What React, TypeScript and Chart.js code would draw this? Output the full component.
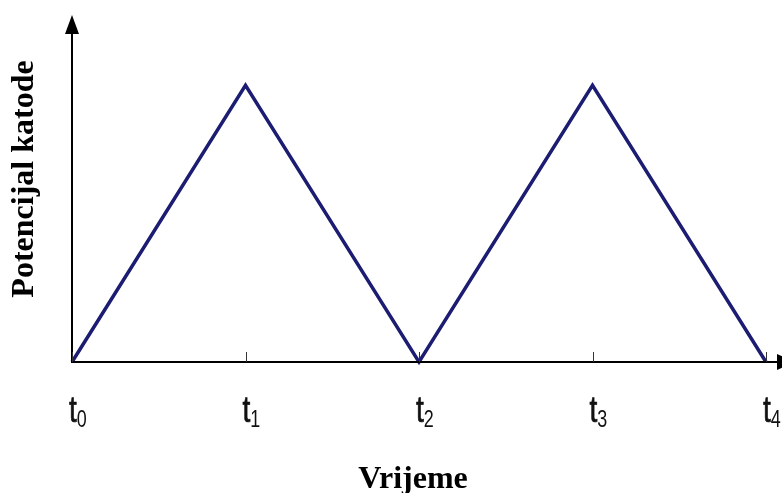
import React, { useEffect, useRef } from "react";
import { Chart, registerables } from "chart.js";

Chart.register(...registerables);

const xValues = [0, 1, 2, 3, 4];
const yValues = [0, 1, 0, 1, 0];
const tickMain = ["t", "t", "t", "t", "t"];
const tickSub = ["0", "1", "2", "3", "4"];
const xTitle = "Vrijeme";
const yTitle = "Potencijal katode";

const overlay = {
  id: "overlay",
  afterDraw(chart: any) {
    const ctx = chart.ctx as CanvasRenderingContext2D;
    const xs = chart.scales.x;
    const ys = chart.scales.y;
    const x0 = xs.getPixelForValue(0);
    const y0 = ys.getPixelForValue(0);
    const top = chart.chartArea.top;
    ctx.save();
    ctx.strokeStyle = "#000";
    ctx.fillStyle = "#000";
    ctx.lineWidth = 2;
    // axes
    ctx.beginPath();
    ctx.moveTo(x0, y0 + 1);
    ctx.lineTo(x0, top + 14);
    ctx.moveTo(x0, y0);
    ctx.lineTo(chart.width, y0);
    ctx.stroke();
    // y arrow
    ctx.beginPath();
    ctx.moveTo(x0, top - 1);
    ctx.lineTo(x0 - 7, top + 18);
    ctx.lineTo(x0 + 7, top + 18);
    ctx.closePath();
    ctx.fill();
    // x arrow
    const ax = xs.getPixelForValue(4) + 11;
    ctx.beginPath();
    ctx.moveTo(ax + 18, y0);
    ctx.lineTo(ax, y0 - 8);
    ctx.lineTo(ax, y0 + 8);
    ctx.closePath();
    ctx.fill();
    // ticks
    ctx.lineWidth = 1;
    ctx.strokeStyle = "#333";
    xValues.forEach((v) => {
      const px = Math.round(xs.getPixelForValue(v)) + 0.5;
      ctx.beginPath();
      ctx.moveTo(px, y0);
      ctx.lineTo(px, y0 - 10);
      ctx.stroke();
    });
    // tick labels (condensed)
    ctx.fillStyle = "#111";
    ctx.strokeStyle = "#111";
    ctx.textBaseline = "alphabetic";
    ctx.textAlign = "left";
    xValues.forEach((v, i) => {
      const px = xs.getPixelForValue(v) - 3;
      ctx.save();
      ctx.translate(px, 0);
      ctx.scale(0.78, 1);
      ctx.font = '36px "Liberation Sans", Arial, sans-serif';
      ctx.fillText(tickMain[i], 0, 422);
      ctx.lineWidth = 0.7;
      ctx.strokeText(tickMain[i], 0, 422);
      const w = ctx.measureText(tickMain[i]).width;
      ctx.font = '23px "Liberation Sans", Arial, sans-serif';
      ctx.fillText(tickSub[i], w, 427);
      ctx.restore();
    });
    // titles
    ctx.fillStyle = "#000";
    ctx.font = 'bold 32px "Liberation Serif", "Times New Roman", serif';
    ctx.textAlign = "center";
    ctx.fillText(xTitle, 413, 488);
    ctx.translate(33, 179);
    ctx.rotate(-Math.PI / 2);
    ctx.fillText(yTitle, 0, 0);
    ctx.restore();
  },
};

export default function App() {
  const ref = useRef<HTMLCanvasElement>(null);
  useEffect(() => {
    document.body.style.margin = "0";
    const chart = new Chart(ref.current!, {
      type: "line",
      data: {
        datasets: [
          {
            data: xValues.map((x, i) => ({ x, y: yValues[i] })),
            borderColor: "#1c1c72",
            borderWidth: 3.5,
            pointRadius: 0,
            tension: 0,
            clip: false as any,
          },
        ],
      },
      options: {
        responsive: false,
        animation: false,
        layout: { padding: { left: 72, right: 16, top: 16, bottom: 131 } },
        plugins: { legend: { display: false }, tooltip: { enabled: false } },
        scales: {
          x: { type: "linear", min: 0, max: 4, display: false },
          y: { type: "linear", min: 0, max: 1.25, display: false },
        },
      },
      plugins: [overlay],
    });
    return () => chart.destroy();
  }, []);
  return (
    <div style={{ width: 782, height: 493, background: "#fff" }}>
      <canvas ref={ref} width={782} height={493} />
    </div>
  );
}
